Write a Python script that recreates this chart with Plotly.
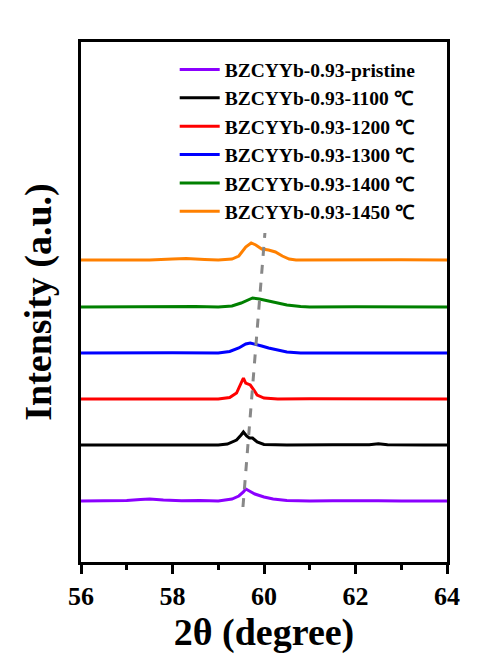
import plotly.graph_objects as go

# 2-theta (degree) sample points and relative intensities (a.u.)
labels = ["BZCYYb-0.93-pristine", "BZCYYb-0.93-1100 \u2103", "BZCYYb-0.93-1200 \u2103",
          "BZCYYb-0.93-1300 \u2103", "BZCYYb-0.93-1400 \u2103", "BZCYYb-0.93-1450 \u2103"]
colors = ["#8B00FF", "#000000", "#FF0000", "#0000FF", "#008000", "#FF8000"]
offsets = [61, 117, 163, 209, 255, 302]

x_pristine = [56, 56.5, 57, 57.3, 57.5, 57.8, 58.2, 58.6, 59, 59.3, 59.45, 59.55, 59.6, 59.68, 59.8, 60, 60.2, 60.5, 61, 61.5, 62, 62.5, 63, 63.5, 64]
y_pristine = [0, 0.2, 0.4, 1.5, 2, 1, 0.3, 0.4, 0, 2, 5, 9, 12, 10, 7, 4, 2, 0.5, 0, 0.3, 0.5, 0.2, 0, 0.3, 0]

x_1100 = [56, 57, 58, 59, 59.2, 59.4, 59.5, 59.55, 59.62, 59.68, 59.75, 59.85, 60, 60.5, 61.5, 62.3, 62.5, 62.7, 63.5, 64]
y_1100 = [0, 0.2, 0, 0, 1, 5, 10, 13, 9, 7, 7, 3, 0.5, 0, 0.2, 0.2, 1.2, 0.2, 0, 0]

x_1200 = [56, 57, 58, 59, 59.25, 59.4, 59.5, 59.55, 59.6, 59.7, 59.78, 59.85, 60, 60.3, 61, 62, 63, 64]
y_1200 = [0, 0.3, 0, 0, 1.5, 6, 15, 21, 16, 14, 9, 4, 1, 0, 0.3, 0.3, 0, 0]

x_1300 = [56, 57, 58, 59, 59.25, 59.45, 59.6, 59.7, 59.8, 59.95, 60.1, 60.3, 60.5, 60.8, 62, 63, 64]
y_1300 = [0, 0.3, 0.3, 0, 1.5, 5, 9, 10, 9, 7, 5, 3, 1, 0, 0.2, 0, 0]

x_1400 = [56, 57, 58, 58.5, 59, 59.3, 59.5, 59.65, 59.75, 59.9, 60, 60.15, 60.3, 60.5, 60.8, 61, 62, 63, 64]
y_1400 = [0, 0.3, 0, 0.5, 0, 1, 4, 7, 9, 8, 7, 6, 4, 2, 0.5, 0, 0.3, 0, 0]

x_1450 = [56, 57, 57.5, 58, 58.3, 58.7, 59, 59.3, 59.45, 59.6, 59.72, 59.82, 59.95, 60.1, 60.25, 60.4, 60.55, 60.7, 61.5, 62, 63, 64]
y_1450 = [0, 0.3, 0, 1, 1.5, 0.5, 0, 1, 4, 13, 17, 15, 11, 10, 8, 4, 1, 0, 0.3, 0, 0.2, 0]

xs = [x_pristine, x_1100, x_1200, x_1300, x_1400, x_1450]
ys = [y_pristine, y_1100, y_1200, y_1300, y_1400, y_1450]

# guide line for peak shift
guide_x = [59.54, 60.02]
guide_y = [55, 329]

x_ticks = [56, 58, 60, 62, 64]

fig = go.Figure()
for i in range(len(labels)):
    fig.add_trace(go.Scatter(
        x=xs[i], y=[v + offsets[i] for v in ys[i]], mode="lines", name="<b>" + labels[i] + "</b>",
        line=dict(color=colors[i], width=3)))

fig.add_trace(go.Scatter(x=guide_x, y=guide_y, mode="lines", showlegend=False,
                         line=dict(color="#888888", width=3, dash="dash")))

ff = "Times New Roman, Liberation Serif, serif"
fig.update_layout(
    width=479, height=664,
    margin=dict(l=81, r=32, t=42, b=102),
    paper_bgcolor="white", plot_bgcolor="white",
    font=dict(family=ff, color="black"),
    showlegend=True,
    legend=dict(x=0.256, y=0.984, xanchor="left", yanchor="top",
                bgcolor="rgba(0,0,0,0)", font=dict(size=19.5, family=ff, color="black"),
                traceorder="normal", itemwidth=40),
    xaxis=dict(range=[56, 64], tickvals=x_ticks, ticktext=["<b>%d</b>" % t for t in x_ticks],
               ticks="outside", ticklen=9, tickwidth=2.5, tickcolor="black",
               minor=dict(dtick=1, ticks="outside", ticklen=5, tickwidth=2.5, tickcolor="black"),
               tickfont=dict(size=26, family=ff, color="black"),
               showline=True, linecolor="black", linewidth=2.8, mirror=True,
               showgrid=False, zeroline=False,
               title=dict(text="<b>2\u03b8 (degree)</b>", font=dict(size=38, family=ff, color="black"), standoff=6)),
    yaxis=dict(range=[0, 520], showticklabels=False, ticks="",
               showline=True, linecolor="black", linewidth=2.8, mirror=True,
               showgrid=False, zeroline=False,
               title=dict(text="<b>Intensity (a.u.)</b>", font=dict(size=38, family=ff, color="black"), standoff=15)),
)

fig.write_html("out.html")
